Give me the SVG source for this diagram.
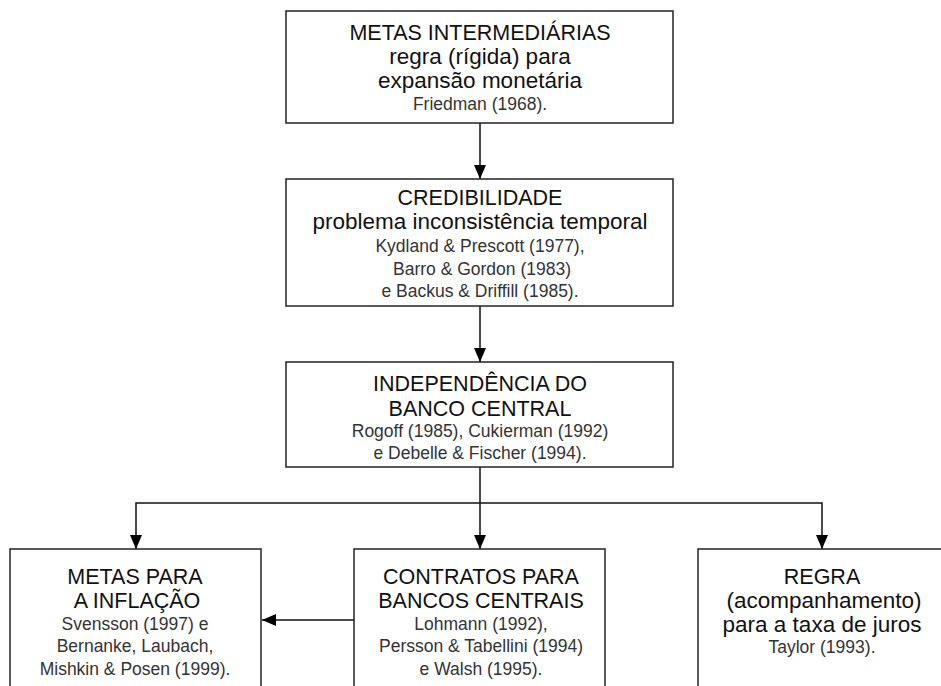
<svg xmlns="http://www.w3.org/2000/svg" width="941" height="686" viewBox="0 0 941 686">
<style>
.box{fill:#fff;stroke:#222;stroke-width:1.5}
.h{font-family:"Liberation Sans",Arial,sans-serif;font-size:21.5px;fill:#111;text-anchor:middle}
.l{font-family:"Liberation Sans",Arial,sans-serif;font-size:22.5px;fill:#111;text-anchor:middle}
.c{font-family:"Liberation Sans",Arial,sans-serif;font-size:17.5px;fill:#333;text-anchor:middle}
.con{fill:none;stroke:#111;stroke-width:1.5}
</style>
<defs>
<marker id="arr" markerWidth="14" markerHeight="12" viewBox="0 0 14 12" refX="14" refY="6" orient="auto" markerUnits="userSpaceOnUse">
<path d="M0,0 L14,6 L0,12 Z" fill="#000"/>
</marker>
</defs>
<rect width="941" height="686" fill="#fff"/>
<g id="connectors">
<line class="con" x1="480" y1="123" x2="480" y2="179" marker-end="url(#arr)"/>
<line class="con" x1="480" y1="306" x2="480" y2="362" marker-end="url(#arr)"/>
<line class="con" x1="480" y1="467" x2="480" y2="549" marker-end="url(#arr)"/>
<polyline class="con" points="480,503 136,503 136,549" marker-end="url(#arr)"/>
<polyline class="con" points="480,503 822,503 822,549" marker-end="url(#arr)"/>
<line class="con" x1="354" y1="620" x2="262" y2="620" marker-end="url(#arr)"/>
</g>
<g id="metas-intermediarias">
<rect class="box" x="286" y="11" width="387" height="112"/>
<text class="h" x="480" y="40">METAS INTERMEDIÁRIAS</text>
<text class="l" x="480" y="64">regra (rígida) para</text>
<text class="l" x="480" y="88">expansão monetária</text>
<text class="c" x="480" y="110">Friedman (1968).</text>
</g>
<g id="credibilidade">
<rect class="box" x="286" y="179" width="387" height="127"/>
<text class="h" x="480" y="205">CREDIBILIDADE</text>
<text class="l" x="480" y="229">problema inconsistência temporal</text>
<text class="c" x="480" y="252">Kydland &amp; Prescott (1977),</text>
<text class="c" x="482" y="275">Barro &amp; Gordon (1983)</text>
<text class="c" x="480" y="297">e Backus &amp; Driffill (1985).</text>
</g>
<g id="independencia">
<rect class="box" x="286" y="362" width="387" height="105"/>
<text class="h" x="480" y="391">INDEPENDÊNCIA DO</text>
<text class="h" x="480" y="416">BANCO CENTRAL</text>
<text class="c" x="480" y="437">Rogoff (1985), Cukierman (1992)</text>
<text class="c" x="480" y="459">e Debelle &amp; Fischer (1994).</text>
</g>
<g id="metas-inflacao">
<rect class="box" x="10" y="549" width="251" height="150"/>
<text class="h" x="135" y="584">METAS PARA</text>
<text class="h" x="137" y="608">A INFLAÇÃO</text>
<text class="c" x="135" y="630">Svensson (1997) e</text>
<text class="c" x="135" y="652">Bernanke, Laubach,</text>
<text class="c" x="135" y="675">Mishkin &amp; Posen (1999).</text>
</g>
<g id="contratos">
<rect class="box" x="354" y="549" width="251" height="150"/>
<text class="h" x="481" y="584">CONTRATOS PARA</text>
<text class="h" x="481" y="608">BANCOS CENTRAIS</text>
<text class="c" x="481" y="630">Lohmann (1992),</text>
<text class="c" x="481" y="652">Persson &amp; Tabellini (1994)</text>
<text class="c" x="481" y="675">e Walsh (1995).</text>
</g>
<g id="regra">
<rect class="box" x="698" y="549" width="260" height="150"/>
<text class="h" x="822" y="584">REGRA</text>
<text class="l" x="824" y="608">(acompanhamento)</text>
<text class="l" x="822" y="632">para a taxa de juros</text>
<text class="c" x="822" y="653">Taylor (1993).</text>
</g>
</svg>
